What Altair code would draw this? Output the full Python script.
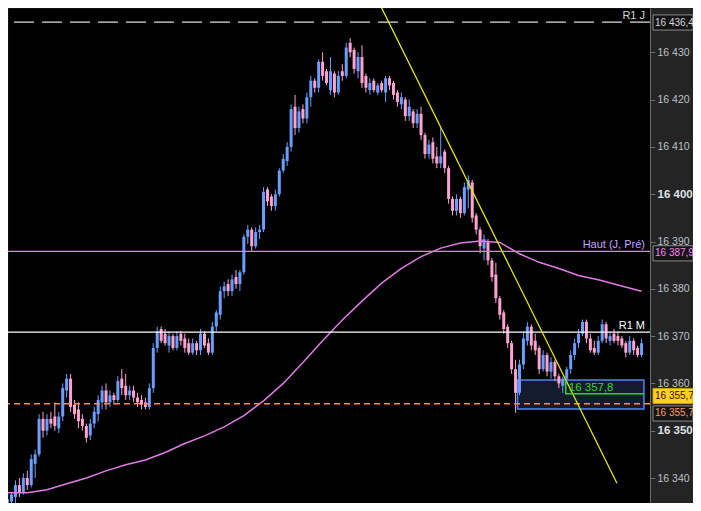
import altair as alt
import pandas as pd

FONT = "Liberation Sans"
BLUE = "#6a9fff"
PINK = "#ffa3d1"

# ---- candles (one bar per column) ----
OPEN = [16333.5, 16335, 16336, 16338.5, 16337, 16340, 16338.5, 16343, 16345, 16352.5,
        16350, 16352.5, 16353, 16350.5, 16353, 16358.5, 16361, 16355.5, 16354.5, 16352.5,
        16351, 16349, 16351.5, 16353.5, 16356, 16358.5, 16356, 16357.5, 16356.5, 16361,
        16359.5, 16357.5, 16358.5, 16357, 16356.5, 16356, 16355, 16359, 16367.5, 16371.5,
        16370.5, 16368, 16370, 16367.5, 16370.5, 16369.5, 16368.5, 16366.5, 16368.5, 16367,
        16370.5, 16368.5, 16366.5, 16372, 16374.5, 16379.5, 16381, 16379.5, 16382.5, 16381,
        16383.5, 16391, 16392.5, 16389, 16392, 16392.5, 16401, 16399.5, 16397.5, 16400,
        16405, 16407, 16410, 16418.5, 16414, 16418, 16416, 16420.5, 16424, 16422.5,
        16428, 16426, 16422, 16425.5, 16421.5, 16426, 16425, 16432, 16430.5, 16426,
        16429, 16425, 16422, 16424, 16421.5, 16423.5, 16421.5, 16424.5, 16423.5, 16421.5,
        16419, 16420, 16416.5, 16417.5, 16415, 16417, 16412.5, 16408.5, 16411, 16408,
        16406.5, 16409, 16405.5, 16399, 16396.5, 16399, 16396, 16401, 16402.5, 16395.5,
        16392.5, 16388.5, 16390, 16386, 16383, 16378, 16375, 16372, 16368.5, 16363,
        16358, 16364, 16369, 16372, 16369, 16367.5, 16363, 16366, 16362.5, 16364.5,
        16361.5, 16359.5, 16361, 16363, 16366, 16368.5, 16370.5, 16373, 16369.5, 16367.5,
        16366.5, 16369, 16372.5, 16369, 16370.5, 16370, 16369.5, 16368.5, 16366.5, 16369,
        16367.5, 16366]
HIGH = [16336.5, 16337, 16339.5, 16340, 16341, 16341.5, 16345, 16346, 16353.5, 16354,
        16353.5, 16354, 16356, 16354, 16360, 16362, 16362, 16356.5, 16356, 16353.5,
        16351.5, 16352.5, 16355, 16357.5, 16359.5, 16360, 16358.5, 16358, 16361.5, 16363,
        16362, 16359.5, 16359.5, 16358, 16357.5, 16357, 16360, 16368.5, 16372, 16372,
        16371.5, 16371, 16370.5, 16371, 16371, 16370.5, 16369.5, 16369.5, 16369, 16371.5,
        16371, 16369.5, 16373, 16375.5, 16380.5, 16381.5, 16382, 16383, 16384, 16384,
        16391.5, 16393.5, 16393, 16393, 16393.5, 16401.5, 16401.5, 16400, 16401, 16405.5,
        16408.5, 16411, 16419, 16421, 16418.5, 16419, 16421.5, 16425, 16424.5, 16428.5,
        16430, 16426.5, 16429, 16426, 16426, 16427.5, 16432, 16433, 16431, 16430,
        16431.5, 16425.5, 16424.5, 16424.5, 16423.5, 16424, 16425, 16425, 16424, 16422,
        16421.5, 16420.5, 16420, 16418, 16418, 16418.5, 16413, 16411.5, 16412, 16410,
        16414, 16409.5, 16406, 16399.5, 16400, 16399.5, 16402.5, 16404, 16403, 16396,
        16393, 16391.5, 16390.5, 16386.5, 16385.5, 16378.5, 16375.5, 16372.5, 16369, 16365,
        16365, 16371, 16373, 16372.5, 16370.5, 16368, 16367, 16366.5, 16365.5, 16365,
        16362, 16361.5, 16363.5, 16367, 16369.5, 16371.5, 16373.5, 16373.5, 16370.5, 16369,
        16370, 16373.5, 16373, 16371, 16371.5, 16371, 16370, 16369, 16370, 16369.5,
        16368, 16369.5]
LOW = [16332, 16333, 16334.5, 16336, 16336.5, 16337.5, 16338, 16340, 16344.5, 16348.5,
       16349, 16350.5, 16350, 16349.5, 16352, 16357, 16354, 16352.5, 16350.5, 16350,
       16347.5, 16348, 16350.5, 16352, 16354.5, 16354.5, 16355, 16355.5, 16356, 16357.5,
       16356.5, 16356.5, 16356, 16355, 16354.5, 16354.5, 16354.5, 16358, 16366.5, 16368.5,
       16368, 16366.5, 16367, 16367, 16368, 16366.5, 16366, 16366, 16366, 16366,
       16367.5, 16366, 16366, 16371, 16373.5, 16378, 16378.5, 16378.5, 16380, 16379.5,
       16383, 16389.5, 16388, 16388.5, 16390.5, 16392, 16397.5, 16396.5, 16396.5, 16399.5,
       16404.5, 16406, 16409, 16412.5, 16413, 16415, 16415, 16418.5, 16421.5, 16421.5,
       16424, 16423, 16421, 16420.5, 16421, 16424, 16424.5, 16429, 16425.5, 16424.5,
       16422.5, 16421.5, 16421, 16421.5, 16421, 16421.5, 16419.5, 16422, 16420, 16418.5,
       16418, 16415.5, 16415.5, 16414, 16414, 16411.5, 16407.5, 16407.5, 16406.5, 16405.5,
       16405.5, 16404.5, 16398, 16395.5, 16395.5, 16395, 16395.5, 16397, 16394, 16391.5,
       16387.5, 16386, 16385, 16381.5, 16377, 16373.5, 16370.5, 16367.5, 16362, 16353.8,
       16357.5, 16363, 16368, 16367, 16366, 16362, 16362.5, 16361.5, 16361, 16360.5,
       16359, 16358, 16360, 16362, 16365, 16367.5, 16370, 16368.5, 16366.5, 16366,
       16366, 16368.5, 16368.5, 16368, 16368.5, 16368, 16367.5, 16365.5, 16366, 16366,
       16365.5, 16365.5]
CLOSE = [16335.5, 16336.5, 16338.5, 16337, 16340, 16338.5, 16344, 16345, 16352.5, 16350,
         16352.5, 16351.5, 16351, 16353, 16359, 16361, 16355, 16353.5, 16352, 16351,
         16348.5, 16351.5, 16354, 16356.5, 16358.5, 16356, 16357.5, 16356.5, 16360.5, 16359,
         16357.5, 16358.5, 16357, 16356, 16355.5, 16355, 16359, 16367.5, 16371, 16369,
         16368.5, 16370, 16367.5, 16370, 16369, 16367.5, 16366.5, 16368.5, 16367, 16370.5,
         16368, 16366.5, 16372, 16375, 16379.5, 16380.5, 16379.5, 16382, 16381, 16383.5,
         16391, 16392.5, 16389, 16392, 16392.5, 16400.5, 16398.5, 16397.5, 16400, 16405,
         16407.5, 16410, 16418, 16414, 16417.5, 16416, 16420.5, 16424, 16422.5, 16428,
         16425, 16423.5, 16426, 16421.5, 16425, 16425, 16431, 16430, 16426.5, 16429,
         16423.5, 16422.5, 16423.5, 16422, 16423, 16422, 16424.5, 16423, 16421, 16419.5,
         16420.5, 16416.5, 16418.5, 16415, 16417, 16412.5, 16408.5, 16410.5, 16407.5, 16406.5,
         16408, 16405.5, 16399, 16396.5, 16399, 16396, 16401.5, 16403, 16395, 16392.5,
         16389, 16390.5, 16386, 16382.5, 16378, 16374.5, 16371.5, 16368.5, 16363, 16358,
         16364, 16369.5, 16372, 16368, 16367, 16363, 16366, 16362.5, 16364.5, 16361.5,
         16360, 16361, 16363, 16366, 16368.5, 16370.5, 16373, 16369.5, 16367, 16366.5,
         16369, 16372.5, 16369.5, 16370, 16369, 16369, 16368, 16366.5, 16369, 16367,
         16366, 16368.5]

# ---- moving average (sampled at bar numbers) ----
MA_BAR = [0, 5, 10, 15, 20, 25, 30, 35, 40, 45, 50, 55, 60, 65, 70, 75, 80,
          85, 90, 95, 100, 105, 110, 115, 120, 125, 130, 135, 140, 145, 150, 155, 160, 161]
MA_VAL = [16336.9, 16336.9, 16337.5, 16338.8, 16340.0, 16341.5, 16342.8, 16343.8,
          16345.4, 16347.3, 16348.9, 16350.8, 16353.2, 16356.3, 16360.0, 16364.4,
          16369.0, 16373.4, 16377.4, 16381.2, 16384.3, 16386.8, 16388.6, 16389.7,
          16390.1, 16389.8, 16387.4, 16385.6, 16384.3, 16382.8, 16381.9, 16380.8,
          16379.7, 16379.5]

# ---- levels ----
R1J = 16436.4
HAUT = 16387.9
R1M = 16370.85
STOP = 16355.7
TARGET = 16357.8

TREND_BAR = [94, 154.75]
TREND_VAL = [16441.06, 16338.9]
BOX_BAR = [129.5, 161.6]
BOX_VAL = [16360.7, 16354.6]
TARGET_BAR = [141.75, 141.75, 161.6]
TARGET_VAL = [16360.7, 16357.8, 16357.8]

TICKS = [16340, 16350, 16360, 16370, 16380, 16390, 16400, 16410, 16420, 16430]

# price tags on the axis
TAG_TEXT = ["16 436,4", "16 387,9", "16 355,7", "16 355,7"]
TAG_CENTER = [16436.3, 16387.5, 16357.34, 16353.64]
TAG_FILL = ["#141414", "#141414", "#ffd21f", "#141414"]
TAG_STROKE = ["#8a8a8a", "#8a8a8a", "#c8a000", "#8a8a8a"]
TAG_TCOL = ["#d4d4d4", "#ff80f5", "#3a0c00", "#ff9a66"]

# labels in the plot
LAB_TEXT = ["R1 J", "Haut (J, Pré)", "R1 M"]
LAB_VAL = [R1J, HAUT, R1M]
LAB_COL = ["#d4d4d4", "#c0a4ff", "#ffffff"]

X_DOMAIN = [1.375, 161.875]
Y_DOMAIN = [16334.715, 16439.366]

xs = alt.Scale(domain=X_DOMAIN, nice=False, zero=False)
ys = alt.Scale(domain=Y_DOMAIN, nice=False, zero=False)

big = "datum.value % 50 === 0"
yaxis = alt.Axis(
    orient="right", values=TICKS, title="", grid=False,
    labelExpr="replace(format(datum.value, ',d'), ',', ' ')",
    domainColor="#6e6e6e", tickColor="#6e6e6e", tickSize=5, labelPadding=2,
    labelFont=FONT,
    labelFontSize={"condition": {"test": big, "value": 11.5}, "value": 10.5},
    labelFontWeight={"condition": {"test": big, "value": "bold"}, "value": "normal"},
    labelColor={"condition": {"test": big, "value": "#dfe2e6"}, "value": "#bcc2c8"},
)


def X(f):
    return alt.X(f, type="quantitative", scale=xs, axis=None)


def Y(f):
    return alt.Y(f, type="quantitative", scale=ys, axis=yaxis)


bars = pd.DataFrame({"i": list(range(len(CLOSE))), "o": OPEN, "h": HIGH, "l": LOW, "c": CLOSE})
updown = alt.condition("datum.c >= datum.o", alt.value(BLUE), alt.value(PINK))

box = alt.Chart(pd.DataFrame({"a": [BOX_BAR[0]], "b": [BOX_BAR[1]],
                              "t": [BOX_VAL[0]], "u": [BOX_VAL[1]]})).mark_rect(
    fill="#141b2e", stroke="#4f86f0", strokeWidth=1.5, clip=True
).encode(x=X("a"), x2=alt.X2("b"), y=Y("t"), y2=alt.Y2("u"))

wicks = alt.Chart(bars).mark_rule(strokeWidth=1, clip=True).encode(
    x=X("i"), y=Y("l"), y2=alt.Y2("h"), color=updown)
bodies = alt.Chart(bars).mark_bar(size=3, clip=True).encode(
    x=X("i"), y=Y("o"), y2=alt.Y2("c"), color=updown)

ma = alt.Chart(pd.DataFrame({"i": MA_BAR, "v": MA_VAL})).mark_line(
    color="#e07ae6", strokeWidth=1.5, clip=True).encode(x=X("i"), y=Y("v"))


def hline(v, **kw):
    return alt.Chart(pd.DataFrame({"v": [v]})).mark_rule(**kw).encode(y=Y("v"))


l_r1j = hline(R1J, color="#dcdcdc", strokeWidth=1.2, strokeDash=[20, 8])
l_haut = hline(HAUT, color="#ff70ff", strokeWidth=1.3)
l_r1m = hline(R1M, color="#ffffff", strokeWidth=1.3)
l_stop = hline(STOP, color="#ff8c4a", strokeWidth=1.5, strokeDash=[6, 4])

trend = alt.Chart(pd.DataFrame({"i": TREND_BAR, "v": TREND_VAL})).mark_line(
    color="#e8e800", strokeWidth=1.3, clip=True).encode(x=X("i"), y=Y("v"))

target = alt.Chart(pd.DataFrame({"i": TARGET_BAR, "v": TARGET_VAL, "k": [0, 1, 2]})).mark_line(
    color="#22dd22", strokeWidth=1.5, clip=True).encode(x=X("i"), y=Y("v"), order="k:Q")

target_lab = alt.Chart(pd.DataFrame({"i": [TARGET_BAR[0]], "v": [TARGET], "t": ["16 357,8"]})).mark_text(
    align="left", baseline="alphabetic", dx=3, dy=-2.5, font=FONT, fontSize=11.5, color="#22dd22"
).encode(x=X("i"), y=Y("v"), text="t:N")

labels = alt.Chart(pd.DataFrame({"t": LAB_TEXT, "v": LAB_VAL, "c": LAB_COL})).mark_text(
    align="right", baseline="alphabetic", dy=-3, font=FONT, fontSize=11
).encode(x=alt.value(637), y=Y("v"), text="t:N", color=alt.Color("c:N", scale=None))

tags_df = pd.DataFrame({"t": TAG_TEXT, "v": TAG_CENTER, "f": TAG_FILL, "s": TAG_STROKE, "c": TAG_TCOL})
tag_box = alt.Chart(tags_df).transform_calculate(
    top="datum.v + 1.6", bot="datum.v - 1.6"
).mark_rect(strokeWidth=1).encode(
    x=alt.value(645), x2=alt.value(685), y=Y("top:Q"), y2=alt.Y2("bot:Q"),
    fill=alt.Fill("f:N", scale=None), stroke=alt.Stroke("s:N", scale=None))
tag_txt = alt.Chart(tags_df).mark_text(
    align="left", baseline="middle", font=FONT, fontSize=10
).encode(x=alt.value(647), y=Y("v"), text="t:N", color=alt.Color("c:N", scale=None))

chart = alt.layer(
    box, wicks, bodies, ma, l_haut, l_r1m, l_stop, l_r1j, trend, target, target_lab,
    labels, tag_box, tag_txt
).properties(
    width=642, height=495,
    autosize=alt.AutoSizeParams(type="none"),
    padding={"left": 0, "top": 0, "right": 43, "bottom": 0},
    background="#242424",
).configure_view(fill="#000000", stroke="transparent")

chart.save("out.html", embed_options={"renderer": "svg", "actions": False})
